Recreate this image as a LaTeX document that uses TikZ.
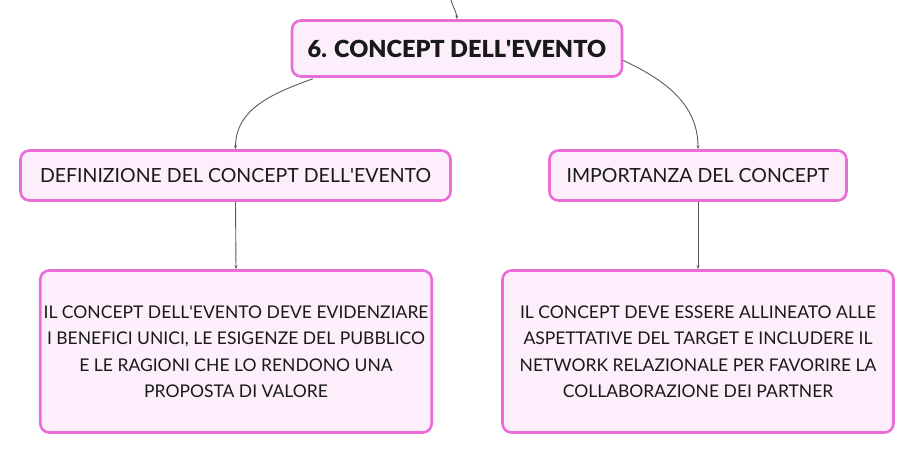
\documentclass[tikz,border=0pt]{standalone}
\usepackage{fontspec}
\setmainfont{Lato}[BoldFont={Lato Black}]
\usetikzlibrary{%
		arrows.meta%
		,positioning%
	}
\definecolor{boxline}{HTML}{EA6CD6}
\definecolor{boxfill}{HTML}{FDEEFB}
\definecolor{wire}{HTML}{5A5A5A}
\newcommand{\apo}{\textquotesingle}
\tikzset{
	topic/.style={draw=boxline, fill=boxfill, line width=2.6pt, rounded corners=9pt, align=center, text=black!90},
	wire/.style={draw=wire, line width=0.9pt, -{Stealth[length=4pt,width=3pt]}},
}

\begin{document}
\begin{tikzpicture}[x=1pt, y=-1pt]
			\useasboundingbox (0,0) rectangle (916,455);
			% Root
			\node[topic, minimum width=330pt, minimum height=56pt, font=\fontsize{23.5}{26}\selectfont\bfseries] (root) at (457,48.5) {6. CONCEPT DELL\apo EVENTO};
			\coordinate (feed) at (451,0);
			\draw[wire] (feed) to[out=-75,in=95] (root.north);
			
			% Branches
			\node[topic, minimum width=430pt, minimum height=50pt, font=\fontsize{19.5}{22}\selectfont] (defn) at (235.5,175.5) {DEFINIZIONE DEL CONCEPT DELL\apo EVENTO};
			\node[topic, minimum width=297pt, minimum height=50pt, font=\fontsize{19.5}{22}\selectfont] (imp) at (698,175.5) {IMPORTANZA DEL CONCEPT};
			\draw[wire] ([xshift=22pt,yshift=-1pt]root.south west) to[out=200,in=90] (defn.north);
			\draw[wire] ([yshift=-12pt]root.east) to[out=-25,in=90] (imp.north);
			
			% Details
			\node[topic, minimum width=391pt, minimum height=162pt, font=\fontsize{17.5}{26.5}\selectfont] (defntxt) at (236,351.5)
				{IL CONCEPT DELL\apo EVENTO DEVE EVIDENZIARE\\I BENEFICI UNICI, LE ESIGENZE DEL PUBBLICO\\E LE RAGIONI CHE LO RENDONO UNA\\PROPOSTA DI VALORE};
			\node[topic, minimum width=391pt, minimum height=162pt, font=\fontsize{17.5}{26.5}\selectfont] (imptxt) at (698,351.5)
				{IL CONCEPT DEVE ESSERE ALLINEATO ALLE\\ASPETTATIVE DEL TARGET E INCLUDERE IL\\NETWORK RELAZIONALE PER FAVORIRE LA\\COLLABORAZIONE DEI PARTNER};
			\foreach \a/\b in {defn/defntxt, imp/imptxt}	{
				\draw[wire] (\a.south) -- (\b.north);
			}
		\end{tikzpicture}
\end{document}
